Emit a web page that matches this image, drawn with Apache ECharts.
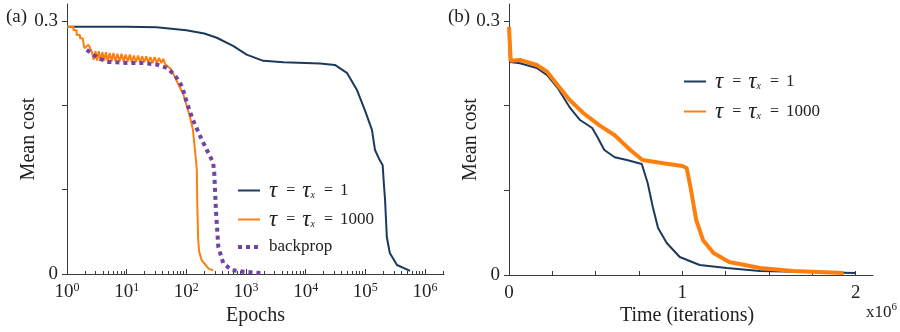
<!DOCTYPE html>
<html>
<head>
<meta charset="utf-8">
<script src="https://cdn.jsdelivr.net/npm/echarts@6/dist/echarts.min.js"></script>
<style>
  html, body { margin: 0; padding: 0; background: #fff; }
  #chart { width: 900px; height: 332px; }
</style>
</head>
<body>
<div id="chart"></div>
<script>
// ---- panel (a): cost vs epochs (log x) ----
const epochsSlow = [1, 10, 31.6, 100, 200, 324, 617, 1023, 1950, 4266, 17400, 30900, 49000, 72400, 97700, 129000, 145000, 174000, 195000, 204000, 214000, 229000, 257000, 339000, 562000];
const costSlow = [0.293, 0.293, 0.2925, 0.289, 0.285, 0.28, 0.27, 0.26, 0.2526, 0.251, 0.2495, 0.2478, 0.2384, 0.218, 0.1945, 0.1708, 0.147, 0.135, 0.129, 0.1075, 0.0877, 0.0439, 0.0249, 0.0107, 0.0036];

const epochsFast = [1, 1.28, 1.28, 1.45, 1.45, 1.65, 1.65, 1.83, 1.95, 2.1, 2.3, 2.45, 2.6,
  2.8, 3.0, 3.2, 3.4, 3.65, 3.9, 4.2, 4.5, 4.8, 5.2, 5.6, 6.0, 6.5, 7.0, 7.6, 8.2, 8.9, 9.6, 10.4, 11.3, 12.2, 13.2, 14.3, 15.5, 16.8, 18.2, 19.7, 21.3, 23, 25, 27, 29.5, 32, 35, 38, 41, 44, 47,
  55, 64, 78, 89, 115, 129, 145, 150, 152, 158, 164, 180, 234, 282];
const costFast = [0.293, 0.293, 0.289, 0.289, 0.2834, 0.2834, 0.2795, 0.2795, 0.2676, 0.2676, 0.2716, 0.2716, 0.2636,
  0.254, 0.264, 0.253, 0.264, 0.253, 0.263, 0.253, 0.263, 0.252, 0.262, 0.252, 0.262, 0.252, 0.261, 0.252, 0.261, 0.252, 0.260, 0.252, 0.260, 0.251, 0.259, 0.251, 0.259, 0.251, 0.258, 0.251, 0.258, 0.251, 0.257, 0.250, 0.257, 0.250, 0.256, 0.250, 0.255, 0.249, 0.251,
  0.243, 0.2336, 0.221, 0.213, 0.186, 0.1708, 0.135, 0.1233, 0.0877, 0.040, 0.0265, 0.0166, 0.0067, 0.004];

const epochsBackprop = [2.14, 2.76, 3.57, 4.9, 10, 18.6, 33, 47, 64, 85, 102, 129, 182, 251, 282, 294, 313, 343, 416, 575, 891, 1950];
const costBackprop = [0.2656, 0.26, 0.255, 0.2514, 0.25, 0.25, 0.248, 0.2443, 0.236, 0.222, 0.203, 0.1826, 0.159, 0.139, 0.1316, 0.1194, 0.0759, 0.0324, 0.0127, 0.0047, 0.0027, 0.001];

// ---- panel (b): cost vs time (x10^6 iterations) ----
const timeSlow = [0, 0.005, 0.063, 0.16, 0.22, 0.28, 0.35, 0.41, 0.48, 0.51, 0.55, 0.61, 0.68, 0.766, 0.80, 0.83, 0.86, 0.91, 0.985, 1.10, 1.256, 1.447, 1.735, 2.0];
const timeCostSlow = [0.292, 0.2516, 0.25, 0.2445, 0.236, 0.221, 0.198, 0.183, 0.1736, 0.163, 0.1476, 0.139, 0.1358, 0.131, 0.1087, 0.080, 0.0555, 0.0378, 0.0213, 0.0118, 0.0083, 0.0047, 0.0035, 0.0024];

const timeFast = [0, 0.01, 0.063, 0.16, 0.22, 0.28, 0.35, 0.43, 0.52, 0.61, 0.70, 0.77, 0.89, 1.0, 1.025, 1.05, 1.08, 1.12, 1.18, 1.27, 1.45, 1.64, 1.93];
const timeCostFast = [0.293, 0.253, 0.254, 0.248, 0.24, 0.2244, 0.2067, 0.191, 0.177, 0.165, 0.1476, 0.1358, 0.132, 0.1287, 0.1264, 0.1004, 0.065, 0.041, 0.026, 0.0154, 0.0083, 0.0047, 0.0024];

// ticks / labels
const decadeTicks = [1, 10, 100, 1e3, 1e4, 1e5, 1e6];
const costTicks = [0, 0.1, 0.2, 0.3];
const costLabels = [0, 0.3];
const timeTicks = [0, 0.25, 0.5, 0.75, 1, 1.25, 1.5, 1.75, 2];
const timeLabels = [0, 1, 2];
const minorTicks = [];
decadeTicks.forEach(d => { for (let k = 2; k <= 9; k++) minorTicks.push(d * k); });

const NAVY = '#1c3a5e', ORANGE = '#ff7f0e', PURPLE = '#7342a5';
const serif = "'Liberation Serif', 'DejaVu Serif', serif";
const AX = '#3a3a3a';

function zip(xs, ys) { return xs.map((x, i) => [x, ys[i]]); }

const legendRich = {
  t: { fontFamily: serif, fontSize: 23, fontStyle: 'italic', color: '#222' },
  e: { fontFamily: serif, fontSize: 16, color: '#222', padding: [0, 7, 0, 9] },
  s: { fontFamily: serif, fontSize: 10, fontStyle: 'italic', color: '#222', padding: [9, 0, 0, 0] },
  n: { fontFamily: serif, fontSize: 17, color: '#222' },
  b: { fontFamily: serif, fontSize: 17, color: '#222' }
};
function legendText(name) {
  if (name === 'slow') return '{t|τ}{e|=}{t|τ}{s|x}{e|=}{n|1}';
  if (name === 'fast') return '{t|τ}{e|=}{t|τ}{s|x}{e|=}{n|1000}';
  return '{b|backprop}';
}

const chart = echarts.init(document.getElementById('chart'), null, { renderer: 'canvas' });

const axisLine = { show: true, onZero: false, lineStyle: { color: AX, width: 1 } };
const labelStyle = { fontFamily: serif, fontSize: 19, color: '#222' };
const nameStyle = { fontFamily: serif, fontSize: 20, color: '#222' };

chart.setOption({
  animation: false,
  backgroundColor: '#fff',
  title: [
    { text: '(a)', left: 1, top: 3, textStyle: { fontFamily: serif, fontSize: 19, fontWeight: 'normal', color: '#222' } },
    { text: '(b)', left: 443, top: 3, textStyle: { fontFamily: serif, fontSize: 19, fontWeight: 'normal', color: '#222' } },
    { text: '{a|x10}{b|6}', left: 861, top: 297,
      textStyle: { fontWeight: 'normal', rich: {
        a: { fontFamily: serif, fontSize: 17, fontWeight: 'normal', color: '#222' },
        b: { fontFamily: serif, fontSize: 11, fontWeight: 'normal', color: '#222', padding: [0, 0, 10, 0] } } } }
  ],
  legend: [
    { data: ['slow', 'fast', { name: 'backprop', lineStyle: { width: 4 } }], left: 231, top: 174, orient: 'vertical',
      itemWidth: 22, itemHeight: 14, itemGap: 6, formatter: legendText,
      itemStyle: { opacity: 0 },
      textStyle: { rich: legendRich, padding: [0, 0, 0, 4], lineHeight: 20 } },
    { data: ['slow 2', 'fast 2'], left: 678, top: 65, orient: 'vertical',
      itemWidth: 22, itemHeight: 14, itemGap: 7,
      itemStyle: { opacity: 0 },
      formatter: n => legendText(n.split(' ')[0]),
      textStyle: { rich: legendRich, padding: [0, 0, 0, 4], lineHeight: 20 } }
  ],
  grid: [
    { left: 67, top: 4, width: 377, height: 270 },
    { left: 509, top: 4, width: 364, height: 271 }
  ],
  xAxis: [
    { type: 'log', logBase: 10, gridIndex: 0, min: 1, max: 2.08e6, position: 'bottom',
      axisLine: axisLine,
      axisTick: { show: true, inside: true, length: 5, customValues: decadeTicks, lineStyle: { color: AX } },
      axisLabel: { customValues: decadeTicks, margin: 8,
        formatter: v => '{b|10}{s|' + Math.round(Math.log10(v)) + '}',
        rich: { b: labelStyle, s: { fontFamily: serif, fontSize: 12, color: '#222', padding: [0, 0, 9, 0] } } },
      splitLine: { show: false },
      name: 'Epochs', nameLocation: 'middle', nameGap: 32, nameMoveOverlap: false, nameTextStyle: nameStyle },
    { type: 'log', logBase: 10, gridIndex: 0, min: 1, max: 2.08e6, position: 'bottom', offset: 0,
      axisLine: { show: false },
      axisTick: { show: true, inside: true, length: 3, customValues: minorTicks, lineStyle: { color: AX } },
      axisLabel: { show: false }, splitLine: { show: false } },
    { type: 'value', gridIndex: 1, min: 0, max: 2.1, position: 'bottom',
      axisLine: axisLine,
      axisTick: { show: true, inside: true, length: 4, customValues: timeTicks, lineStyle: { color: AX } },
      axisLabel: { customValues: timeLabels, margin: 9, fontFamily: serif, fontSize: 19, color: '#222' },
      splitLine: { show: false },
      name: 'Time (iterations)', nameLocation: 'middle', nameGap: 31, nameMoveOverlap: false,
      nameTextStyle: Object.assign({ padding: [0, 8, 0, 0] }, nameStyle) }
  ],
  yAxis: [
    { type: 'value', gridIndex: 0, min: 0, max: 0.32,
      axisLine: axisLine,
      axisTick: { show: true, inside: false, length: 5, customValues: costTicks, lineStyle: { color: AX } },
      axisLabel: { customValues: costLabels, margin: 9, fontFamily: serif, fontSize: 19, color: '#222' },
      splitLine: { show: false },
      name: 'Mean cost', nameLocation: 'middle', nameGap: 28, nameMoveOverlap: false, nameTextStyle: nameStyle },
    { type: 'value', gridIndex: 1, min: 0, max: 0.32,
      axisLine: axisLine,
      axisTick: { show: true, inside: false, length: 5, customValues: costTicks, lineStyle: { color: AX } },
      axisLabel: { customValues: costLabels, margin: 9, fontFamily: serif, fontSize: 19, color: '#222' },
      splitLine: { show: false },
      name: 'Mean cost', nameLocation: 'middle', nameGap: 28, nameMoveOverlap: false, nameTextStyle: nameStyle }
  ],
  series: [
    { name: 'slow', type: 'line', xAxisIndex: 0, yAxisIndex: 0, showSymbol: false, symbol: 'none',
      data: zip(epochsSlow, costSlow), color: NAVY, lineStyle: { color: NAVY, width: 2 } },
    { name: 'fast', type: 'line', xAxisIndex: 0, yAxisIndex: 0, showSymbol: false, symbol: 'none',
      data: zip(epochsFast, costFast), color: ORANGE, lineStyle: { color: ORANGE, width: 2 } },
    { name: 'backprop', type: 'line', xAxisIndex: 0, yAxisIndex: 0, showSymbol: false, symbol: 'none',
      data: zip(epochsBackprop, costBackprop), color: PURPLE,
      lineStyle: { color: PURPLE, width: 4, type: [4, 4], cap: 'butt' } },
    { name: 'slow 2', type: 'line', xAxisIndex: 2, yAxisIndex: 1, showSymbol: false, symbol: 'none',
      data: zip(timeSlow, timeCostSlow), color: NAVY, lineStyle: { color: NAVY, width: 2 } },
    { name: 'fast 2', type: 'line', xAxisIndex: 2, yAxisIndex: 1, showSymbol: false, symbol: 'none',
      data: zip(timeFast, timeCostFast), color: ORANGE, lineStyle: { color: ORANGE, width: 4 } }
  ]
});
</script>
</body>
</html>
